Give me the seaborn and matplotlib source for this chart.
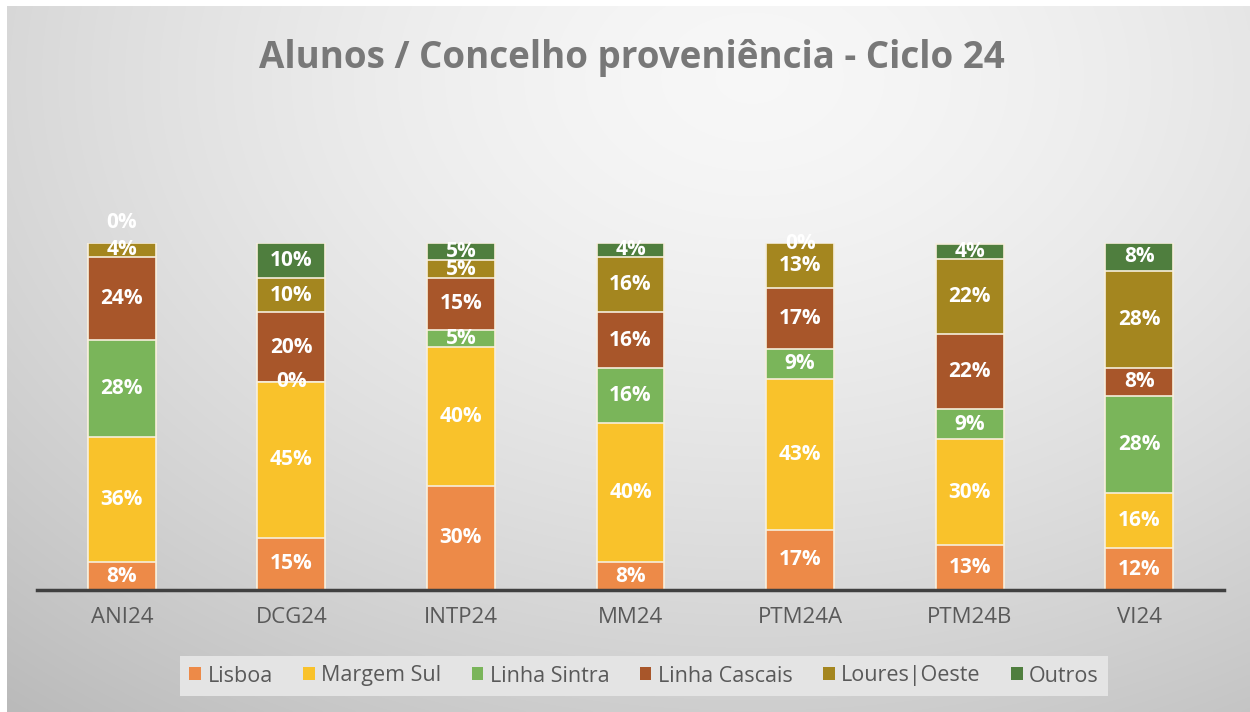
import numpy as np
import pandas as pd
import matplotlib
matplotlib.use("Agg")
import matplotlib.pyplot as plt
import seaborn as sns
from matplotlib.patches import Patch

categories = ["ANI24", "DCG24", "INTP24", "MM24", "PTM24A", "PTM24B", "VI24"]
series_names = ["Lisboa", "Margem Sul", "Linha Sintra", "Linha Cascais", "Loures|Oeste", "Outros"]
lisboa = [8, 15, 30, 8, 17.4, 13.0, 12]
margem_sul = [36, 45, 40, 40, 43.4, 30.4, 16]
linha_sintra = [28, 0, 5, 16, 8.7, 8.7, 28]
linha_cascais = [24, 20, 15, 16, 17.4, 21.7, 8]
loures_oeste = [4, 10, 5, 16, 13.0, 21.7, 28]
outros = [0, 10, 5, 4, 0, 4.3, 8]

colors = ["#ED8A48", "#F9C22B", "#7AB55A", "#A8562A", "#A4861F", "#4F7E3E"]

sns.set_theme(style="white")
plt.rcParams["font.family"] = ["Open Sans", "DejaVu Sans"]

W, H = 1250, 712
fig = plt.figure(figsize=(W / 100, H / 100), dpi=100)
fig.patch.set_facecolor("white")

# background gradient panel
bg = fig.add_axes([7 / W, 0, 1 - 7 / W, 1 - 6 / H], zorder=-5)
yy, xx = np.mgrid[0:1:300j, 0:1:500j]
d = np.sqrt(((xx - 0.6) / 0.8) ** 2 + ((yy - 0.1) / 1.0) ** 2)
val = 0.97 - 0.19 * np.clip(d, 0, 1.2) ** 1.5
img = np.dstack([val, val, val])
bg.imshow(img, aspect="auto", extent=[0, 1, 1, 0], interpolation="bilinear")
bg.set_axis_off()

# main axes
ax = fig.add_axes([37 / W, (H - 590) / H, (1224 - 37) / W, (590 - 243) / H])
ax.set_facecolor("none")

data = pd.DataFrame({
    "categoria": categories,
    "Lisboa": lisboa,
    "Margem Sul": margem_sul,
    "Linha Sintra": linha_sintra,
    "Linha Cascais": linha_cascais,
    "Loures|Oeste": loures_oeste,
    "Outros": outros,
})
vals = data[series_names].to_numpy(dtype=float)
cum = np.cumsum(vals, axis=1)

for i in reversed(range(len(series_names))):
    sns.barplot(x=categories, y=cum[:, i], color=colors[i], width=0.4,
                edgecolor="#F6EEDC", linewidth=1.2, ax=ax, saturation=1,
                label=series_names[i], zorder=2)

label_offsets = {("ANI24", "Outros"): 15}
for j, cat in enumerate(categories):
    for i, s in enumerate(series_names):
        v = vals[j, i]
        bottom = cum[j, i] - v
        yc = bottom + v / 2
        off = label_offsets.get((cat, s), 0)
        ax.annotate(f"{v:.0f}%", (j, yc), xytext=(0, off), textcoords="offset points",
                    ha="center", va="center", color="white", fontsize=15,
                    fontweight="bold", zorder=5, annotation_clip=False)

ax.set_xlim(-0.5, len(categories) - 0.5)
ax.set_ylim(0, 100)
ax.set_yticks([])
for sp in ["top", "right", "left"]:
    ax.spines[sp].set_visible(False)
ax.spines["bottom"].set_color("#404040")
ax.spines["bottom"].set_linewidth(2.5)
ax.spines["bottom"].set_zorder(6)
ax.tick_params(axis="x", length=0, pad=12, labelsize=16, labelcolor="#595959")
ax.set_xlabel("")
ax.set_ylabel("")
if ax.get_legend():
    ax.get_legend().remove()

fig.text(632 / W, 1 - 58 / H, "Alunos / Concelho proveniência - Ciclo 24",
         ha="center", va="center", fontsize=26.5, fontweight="bold", color="#787878")

handles = [Patch(facecolor=c, edgecolor="none") for c in colors]
leg = fig.legend(handles, series_names, loc="center", bbox_to_anchor=(644 / W, 1 - 676 / H),
                 ncol=6, frameon=True, fontsize=15.5, handlelength=0.55, handleheight=0.55,
                 handletextpad=0.3, columnspacing=1.4, borderpad=0.45, fancybox=False)
leg.get_frame().set_facecolor("#E4E4E4")
leg.get_frame().set_edgecolor("none")
leg.get_frame().set_alpha(1)
for t in leg.get_texts():
    t.set_color("#595959")

fig.savefig("out.png", dpi=100)
